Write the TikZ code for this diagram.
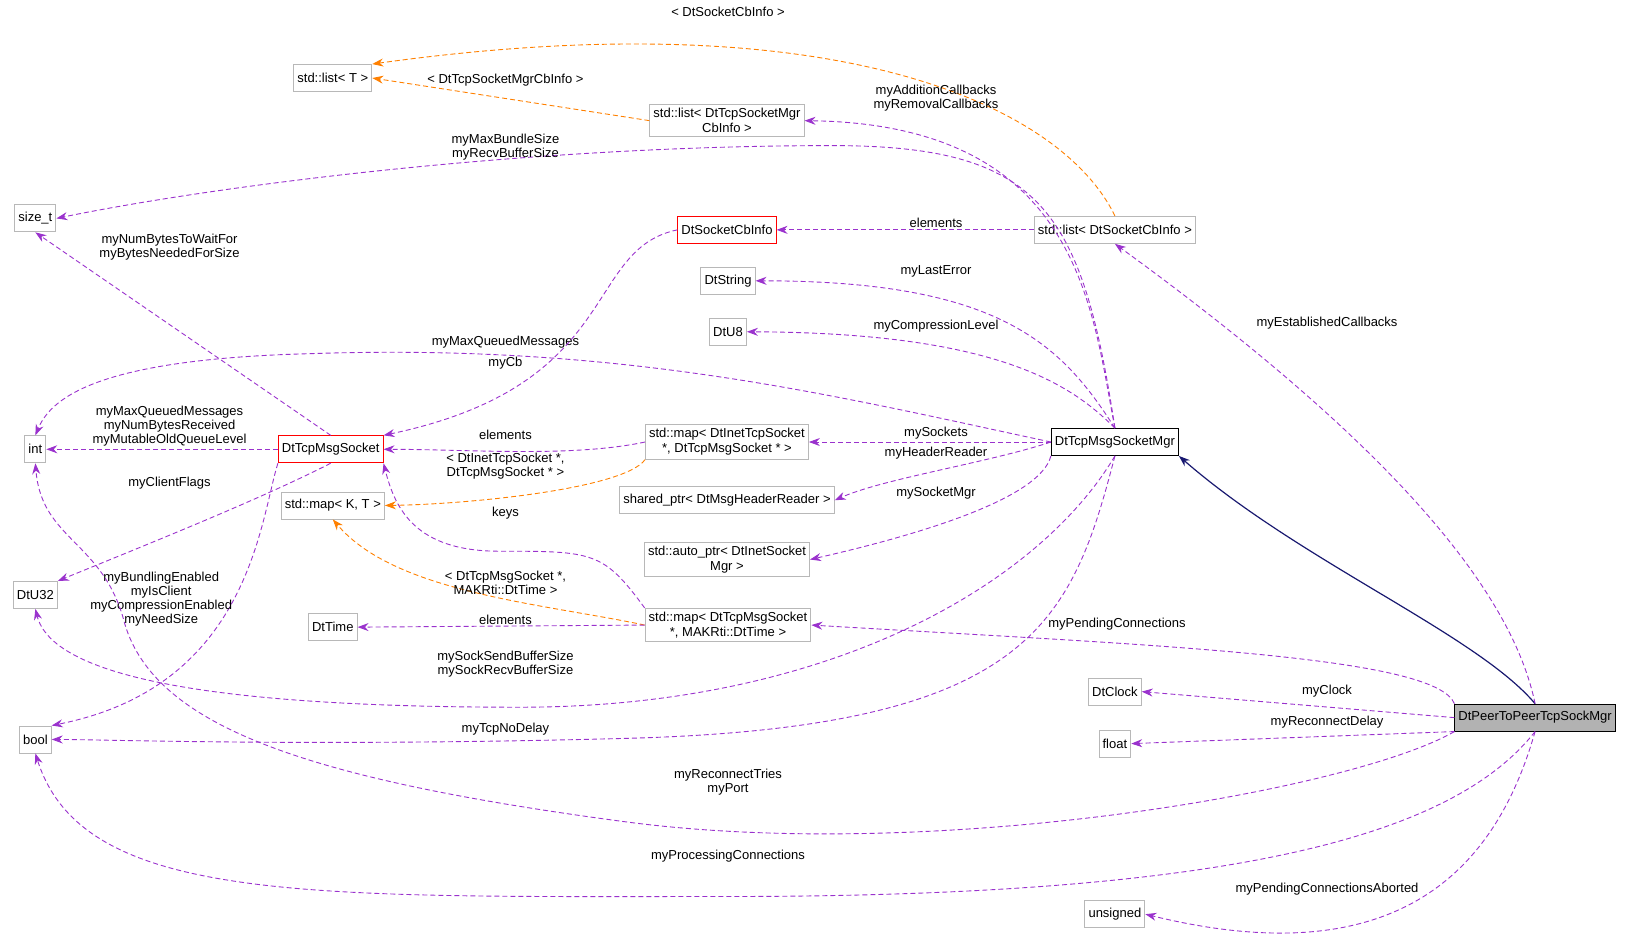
\documentclass[tikz,border=0pt]{standalone}
\usepackage{fontspec}
\setmainfont{Liberation Sans}
\usetikzlibrary{arrows.meta}
\tikzset{
  box/.style={draw=black!28, line width=0.9pt, fill=white, font=\fontsize{13}{15}\selectfont, align=center, inner sep=3.6pt, minimum height=27pt},
  redbox/.style={box, draw=red},
  blkbox/.style={box, draw=black},
  lbl/.style={font=\fontsize{13}{14}\selectfont, align=center, inner sep=0pt},
  use/.style={draw={rgb,255:red,154;green,50;blue,205}, line width=0.9pt, dash pattern=on 5pt off 3pt, -{Stealth[length=11pt,width=8pt]}},
  tmpl/.style={draw=orange, line width=0.9pt, dash pattern=on 5pt off 3pt, -{Stealth[length=11pt,width=8pt]}},
  inh/.style={draw={rgb,255:red,25;green,25;blue,112}, line width=1.2pt, -{Stealth[length=11pt,width=8pt]}}
}
\begin{document}
\begin{tikzpicture}[x=1.04pt,y=-1.04pt]
\useasboundingbox (0,0) rectangle (1564.4,901.9);
% classes
\node[box] (listT) at (320,75) {std::list< T >};
\node[box] (listMgrCb) at (699,116) {std::list< DtTcpSocketMgr\\CbInfo >};
\node[box] (sizet) at (34,210) {size\_t};
\node[redbox] (cbinfo) at (699,221) {DtSocketCbInfo};
\node[box] (listCb) at (1072,221) {std::list< DtSocketCbInfo >};
\node[box] (dtstring) at (700,270) {DtString};
\node[box] (dtu8) at (700,319) {DtU8};
\node[box] (int) at (34,432) {int};
\node[redbox] (msgsock) at (318,432) {DtTcpMsgSocket};
\node[box] (mapInet) at (699,425) {std::map< DtInetTcpSocket\\*, DtTcpMsgSocket * >};
\node[blkbox] (mgr) at (1072,425) {DtTcpMsgSocketMgr};
\node[box] (shared) at (699,481) {shared\_ptr< DtMsgHeaderReader >};
\node[box] (mapKT) at (320,486) {std::map< K, T >};
\node[box] (auto) at (699,538) {std::auto\_ptr< DtInetSocket\\Mgr >};
\node[box] (dtu32) at (34,572) {DtU32};
\node[box] (dttime) at (320,603) {DtTime};
\node[box] (mapTime) at (700,601) {std::map< DtTcpMsgSocket\\*, MAKRti::DtTime >};
\node[box] (dtclock) at (1072,665) {DtClock};
\node[blkbox, fill=black!30] (p2p) at (1476,690) {DtPeerToPeerTcpSockMgr};
\node[box] (bool) at (34,711) {bool};
\node[box] (float) at (1072,715) {float};
\node[box] (unsigned) at (1072,879) {unsigned};

% inheritance
\draw[inh] (p2p.north) .. controls (1420,610) and (1250,540) .. (mgr.south east);

% template instances
\draw[tmpl] (listCb.north) .. controls (1020,100) and (800,0) .. (listT.north east);
\draw[tmpl] (listMgrCb.west) -- (listT.east);
\draw[tmpl] (mapInet.south west) .. controls (600,470) and (450,485) .. (mapKT.east);
\draw[tmpl] (mapTime.west) .. controls (520,580) and (380,570) .. (mapKT.south);
\node[lbl] (l1) at (700,11) {< DtSocketCbInfo >};
\node[lbl] (l2) at (486,77) {< DtTcpSocketMgrCbInfo >};
\node[lbl] (l3) at (486,448) {< DtInetTcpSocket *,\\DtTcpMsgSocket * >};
\node[lbl] (l4) at (486,560) {< DtTcpMsgSocket *,\\MAKRti::DtTime >};

% members of DtTcpMsgSocketMgr
\draw[use] (mgr.north) .. controls (1050,300) and (1040,120) .. (listMgrCb.east);
\draw[use] (mgr.north) .. controls (1040,200) and (1000,140) .. (800,140) .. controls (500,140) and (200,180) .. (sizet.east);
\draw[use] (mgr.north) .. controls (1020,330) and (960,270) .. (dtstring.east);
\draw[use] (mgr.north) .. controls (1030,370) and (960,320) .. (dtu8.east);
\draw[use] (mgr.west) .. controls (800,380) and (600,330) .. (300,340) .. controls (100,345) and (50,380) .. (int.north);
\draw[use] (mgr.west) -- (mapInet.east);
\draw[use] (mgr.west) .. controls (950,445) and (850,460) .. (shared.east);
\draw[use] (mgr.south west) .. controls (1000,480) and (880,515) .. (auto.east);
\draw[use] (mgr.south) .. controls (1000,560) and (800,680) .. (500,680) .. controls (200,680) and (50,650) .. (dtu32.south);
\draw[use] (mgr.south) .. controls (1030,600) and (990,700) .. (600,710) .. controls (300,718) and (100,711) .. (bool.east);
\node[lbl] (l5) at (900,94) {myAdditionCallbacks\\myRemovalCallbacks};
\node[lbl] (l6) at (486,141) {myMaxBundleSize\\myRecvBufferSize};
\node[lbl] (l7) at (900,261) {myLastError};
\node[lbl] (l8) at (900,314) {myCompressionLevel};
\node[lbl] (l9) at (486,329) {myMaxQueuedMessages};
\node[lbl] (l10) at (900,416) {mySockets};
\node[lbl] (l11) at (900,436) {myHeaderReader};
\node[lbl] (l12) at (900,474) {mySocketMgr};
\node[lbl] (l13) at (486,639) {mySockSendBufferSize\\mySockRecvBufferSize};
\node[lbl] (l14) at (486,701) {myTcpNoDelay};

% other members
\draw[use] (listCb.west) -- (cbinfo.east);
\draw[use] (msgsock.north) -- (sizet.south);
\draw[use] (cbinfo.west) .. controls (560,240) and (600,370) .. (msgsock.north east);
\draw[use] (msgsock.west) -- (int.east);
\draw[use] (mapInet.west) .. controls (550,440) and (450,432) .. (msgsock.east);
\draw[use] (msgsock.south) .. controls (250,480) and (150,520) .. (dtu32.north east);
\draw[use] (mapTime.north west) .. controls (580,530) and (570,530) .. (480,530) .. controls (400,530) and (380,490) .. (msgsock.south east);
\draw[use] (msgsock.south west) .. controls (250,500) and (240,660) .. (bool.north east);
\draw[use] (mapTime.west) -- (dttime.east);
\node[lbl] (l15) at (900,214) {elements};
\node[lbl] (l16) at (163,238) {myNumBytesToWaitFor\\myBytesNeededForSize};
\node[lbl] (l17) at (486,349) {myCb};
\node[lbl] (l18) at (163,410) {myMaxQueuedMessages\\myNumBytesReceived\\myMutableOldQueueLevel};
\node[lbl] (l19) at (486,418) {elements};
\node[lbl] (l20) at (163,465) {myClientFlags};
\node[lbl] (l21) at (486,493) {keys};
\node[lbl] (l22) at (155,576) {myBundlingEnabled\\myIsClient\\myCompressionEnabled\\myNeedSize};
\node[lbl] (l23) at (486,596) {elements};

% members of DtPeerToPeerTcpSockMgr
\draw[use] (p2p.north) .. controls (1450,550) and (1300,400) .. (listCb.south);
\draw[use] (p2p.north west) .. controls (1380,630) and (1100,620) .. (mapTime.east);
\draw[use] (p2p.west) -- (dtclock.east);
\draw[use] (p2p.south west) -- (float.east);
\draw[use] (p2p.south west) .. controls (1300,760) and (900,830) .. (600,790) .. controls (300,750) and (150,700) .. (120,600) .. controls (100,520) and (40,520) .. (int.south);
\draw[use] (p2p.south) .. controls (1400,800) and (1200,862) .. (700,862) .. controls (300,862) and (80,870) .. (bool.south);
\draw[use] (p2p.south) .. controls (1440,830) and (1350,940) .. (unsigned.east);
\node[lbl] (l24) at (1276,311) {myEstablishedCallbacks};
\node[lbl] (l25) at (1074,600) {myPendingConnections};
\node[lbl] (l26) at (1276,665) {myClock};
\node[lbl] (l27) at (1276,694) {myReconnectDelay};
\node[lbl] (l28) at (700,752) {myReconnectTries\\myPort};
\node[lbl] (l29) at (700,823) {myProcessingConnections};
\node[lbl] (l30) at (1276,855) {myPendingConnectionsAborted};
\end{tikzpicture}
\end{document}
